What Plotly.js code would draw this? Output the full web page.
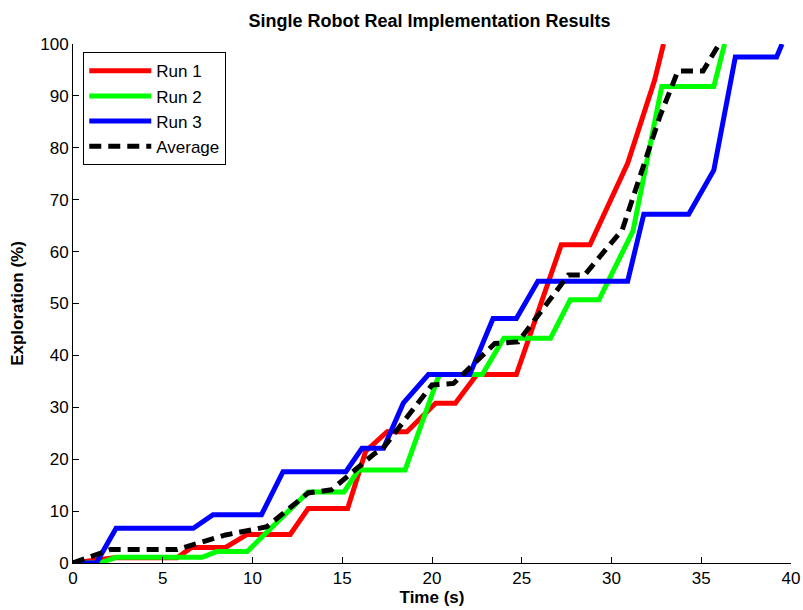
<!DOCTYPE html>
<html>
<head>
<meta charset="utf-8">
<script src="https://cdn.plot.ly/plotly-3.0.1.min.js"></script>
<style>html,body{margin:0;padding:0;background:#fff;}#chart{width:803px;height:610px;}</style>
</head>
<body>
<div id="chart"></div>
<script>
const seriesNames = ["Run 1", "Run 2", "Run 3", "Average"];

const run1X = [0, 1.2, 2.3, 5.8, 6.6, 8.5, 9.7, 12.1, 13.1, 15.3, 16.3, 17.5, 18.6, 20.2, 21.3, 22.5, 24.7, 27.2, 28.8, 30.9, 32.4, 32.9];
const run1Y = [0, 0.6, 1, 1, 3, 3, 5.5, 5.5, 10.5, 10.5, 21.5, 25.3, 25.3, 30.8, 30.8, 36.3, 36.3, 61.3, 61.3, 77, 93, 100];

const run2X = [0, 1.5, 2.4, 7.2, 8.0, 9.7, 13.1, 15.1, 15.9, 18.5, 20.4, 22.8, 24.0, 26.6, 27.7, 29.3, 31.2, 32.8, 35.7, 36.3];
const run2Y = [0, 0, 1.1, 1.1, 2.2, 2.2, 13.7, 13.7, 17.9, 17.9, 36.3, 36.3, 43.3, 43.3, 50.7, 50.7, 64, 91.8, 91.8, 100];

const run3X = [0, 1.3, 2.4, 6.7, 7.8, 10.5, 11.7, 15.2, 16.1, 17.3, 18.4, 19.8, 22.1, 23.4, 24.7, 25.9, 30.9, 31.8, 34.3, 35.7, 36.9, 39.2, 39.5];
const run3Y = [0, 0, 6.7, 6.7, 9.3, 9.3, 17.6, 17.6, 22.1, 22.1, 30.8, 36.3, 36.3, 47.1, 47.1, 54.3, 54.3, 67.2, 67.2, 75.7, 97.5, 97.5, 100];

const avgX = [0, 1.3, 2.1, 5.8, 7.4, 8.5, 10.0, 10.8, 13.1, 14.4, 16.8, 17.2, 20.0, 21.2, 23.5, 24.8, 27.6, 28.5, 30.6, 32.7, 33.7, 35.1, 36.0];
const avgY = [0, 1.5, 2.6, 2.6, 4.4, 5.4, 6.4, 7, 13.5, 14.1, 21.1, 21.8, 34.3, 34.6, 42.3, 42.6, 55.5, 55.5, 64.2, 86.1, 94.8, 94.8, 100];

const xTicks = [0, 5, 10, 15, 20, 25, 30, 35, 40];
const yTicks = [0, 10, 20, 30, 40, 50, 60, 70, 80, 90, 100];

const traces = [
  {x: run1X, y: run1Y, name: seriesNames[0], mode: "lines", line: {color: "#ff0000", width: 5}},
  {x: run2X, y: run2Y, name: seriesNames[1], mode: "lines", line: {color: "#00ff00", width: 5}},
  {x: run3X, y: run3Y, name: seriesNames[2], mode: "lines", line: {color: "#0000ff", width: 5}},
  {x: avgX, y: avgY, name: seriesNames[3], mode: "lines", line: {color: "#000000", width: 5, dash: "12px,7px"}}
];

const font = "Liberation Sans, Arial, sans-serif";
const layout = {
  width: 803, height: 610,
  margin: {l: 73, r: 12, t: 44, b: 47},
  paper_bgcolor: "#ffffff", plot_bgcolor: "#ffffff",
  font: {family: font, size: 17, color: "#000"},
  title: {text: "<b>Single Robot Real Implementation Results</b>", font: {family: font, size: 18, color: "#000"}, x: 0.535, xanchor: "center", y: 0.966, yanchor: "middle"},
  xaxis: {
    range: [0, 40], tickvals: xTicks, ticktext: xTicks.map(String),
    ticks: "inside", ticklen: 6, tickcolor: "#000", showline: true, linecolor: "#000", linewidth: 1,
    showgrid: false, zeroline: false, tickfont: {family: font, size: 17},
    title: {text: "<b>Time (s)</b>", font: {family: font, size: 17}, standoff: 0}
  },
  yaxis: {
    range: [0, 100], tickvals: yTicks, ticktext: yTicks.map(String),
    ticks: "inside", ticklen: 6, tickcolor: "#000", showline: true, linecolor: "#000", linewidth: 1,
    showgrid: false, zeroline: false, tickfont: {family: font, size: 17},
    title: {text: "<b>Exploration (%)</b>", font: {family: font, size: 17}, standoff: 12}
  },
  legend: {
    x: 0.0143, y: 0.984, xanchor: "left", yanchor: "top",
    bgcolor: "#ffffff", bordercolor: "#000", borderwidth: 1,
    font: {family: font, size: 17}, tracegroupgap: 0, itemwidth: 62
  },
  showlegend: true
};

Plotly.newPlot("chart", traces, layout, {displayModeBar: false, staticPlot: true});
</script>
</body>
</html>
